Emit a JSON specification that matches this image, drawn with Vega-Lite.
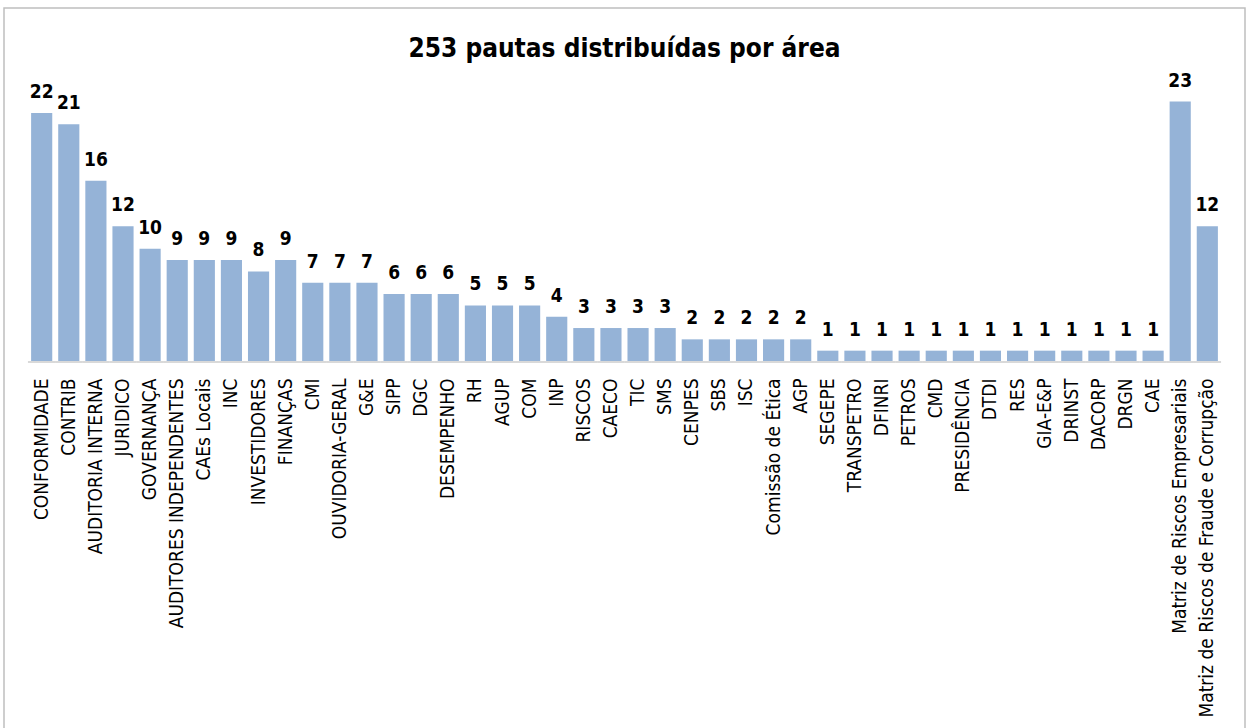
{
  "$schema": "https://vega.github.io/schema/vega-lite/v6.json",
  "autosize": "none",
  "width": 1241,
  "height": 727,
  "padding": {"left": 4, "top": 8, "right": 6, "bottom": 0},
  "background": "white",
  "config": {
    "view": {"stroke": "#BFBFBF", "strokeWidth": 1.5},
    "font": "DejaVu Sans Condensed"
  },
  "title": {
    "text": "253 pautas distribuídas por área",
    "font": "DejaVu Sans Condensed",
    "fontSize": 26,
    "fontWeight": "bold",
    "color": "black",
    "anchor": "middle",
    "baseline": "alphabetic",
    "offset": -75
  },
  "data": {
    "values": [
      {"area": "CONFORMIDADE", "pautas": 22},
      {"area": "CONTRIB", "pautas": 21},
      {"area": "AUDITORIA INTERNA", "pautas": 16},
      {"area": "JURIDICO", "pautas": 12},
      {"area": "GOVERNANÇA", "pautas": 10},
      {"area": "AUDITORES INDEPENDENTES", "pautas": 9},
      {"area": "CAEs Locais", "pautas": 9},
      {"area": "INC", "pautas": 9},
      {"area": "INVESTIDORES", "pautas": 8},
      {"area": "FINANÇAS", "pautas": 9},
      {"area": "CMI", "pautas": 7},
      {"area": "OUVIDORIA-GERAL", "pautas": 7},
      {"area": "G&E", "pautas": 7},
      {"area": "SIPP", "pautas": 6},
      {"area": "DGC", "pautas": 6},
      {"area": "DESEMPENHO", "pautas": 6},
      {"area": "RH", "pautas": 5},
      {"area": "AGUP", "pautas": 5},
      {"area": "COM", "pautas": 5},
      {"area": "INP", "pautas": 4},
      {"area": "RISCOS", "pautas": 3},
      {"area": "CAECO", "pautas": 3},
      {"area": "TIC", "pautas": 3},
      {"area": "SMS", "pautas": 3},
      {"area": "CENPES", "pautas": 2},
      {"area": "SBS", "pautas": 2},
      {"area": "ISC", "pautas": 2},
      {"area": "Comissão de Ética", "pautas": 2},
      {"area": "AGP", "pautas": 2},
      {"area": "SEGEPE", "pautas": 1},
      {"area": "TRANSPETRO", "pautas": 1},
      {"area": "DFINRI", "pautas": 1},
      {"area": "PETROS", "pautas": 1},
      {"area": "CMD", "pautas": 1},
      {"area": "PRESIDÊNCIA", "pautas": 1},
      {"area": "DTDI", "pautas": 1},
      {"area": "RES", "pautas": 1},
      {"area": "GIA-E&P", "pautas": 1},
      {"area": "DRINST", "pautas": 1},
      {"area": "DACORP", "pautas": 1},
      {"area": "DRGN", "pautas": 1},
      {"area": "CAE", "pautas": 1},
      {"area": "Matriz de Riscos Empresariais", "pautas": 23},
      {"area": "Matriz de Riscos de Fraude e Corrupção", "pautas": 12}
    ]
  },
  "encoding": {
    "x": {
      "field": "area",
      "type": "nominal",
      "sort": null,
      "scale": {"paddingInner": 0.22, "paddingOuter": 1.22},
      "axis": {
        "title": null,
        "orient": "bottom",
        "offset": -373,
        "domain": false,
        "ticks": false,
        "tickSize": 0,
        "labelAngle": -90,
        "labelAlign": "right",
        "labelBaseline": "middle",
        "labelPadding": 16,
        "labelFont": "DejaVu Sans Condensed",
        "labelFontSize": 19,
        "labelColor": "black",
        "labelLimit": 0,
        "labelOverlap": false
      }
    }
  },
  "layer": [
    {
      "mark": {"type": "bar", "color": "#95B3D7"},
      "encoding": {
        "y": {
          "field": "pautas",
          "type": "quantitative",
          "scale": {"domain": [-32.95, 31.27], "nice": false, "zero": false},
          "axis": null
        }
      }
    },
    {
      "mark": {"type": "rule", "color": "#D9D9D9", "strokeWidth": 2},
      "encoding": {
        "x": {"field": "area", "type": "nominal", "sort": null, "bandPosition": -0.15},
        "x2": {"field": "area", "bandPosition": 1.15},
        "y": {"datum": 0, "type": "quantitative"}
      }
    },
    {
      "mark": {
        "type": "text",
        "font": "DejaVu Sans Condensed",
        "fontSize": 19,
        "fontWeight": "bold",
        "color": "black",
        "baseline": "alphabetic",
        "dy": -15
      },
      "encoding": {
        "y": {"field": "pautas", "type": "quantitative"},
        "text": {"field": "pautas", "type": "quantitative"}
      }
    }
  ]
}
